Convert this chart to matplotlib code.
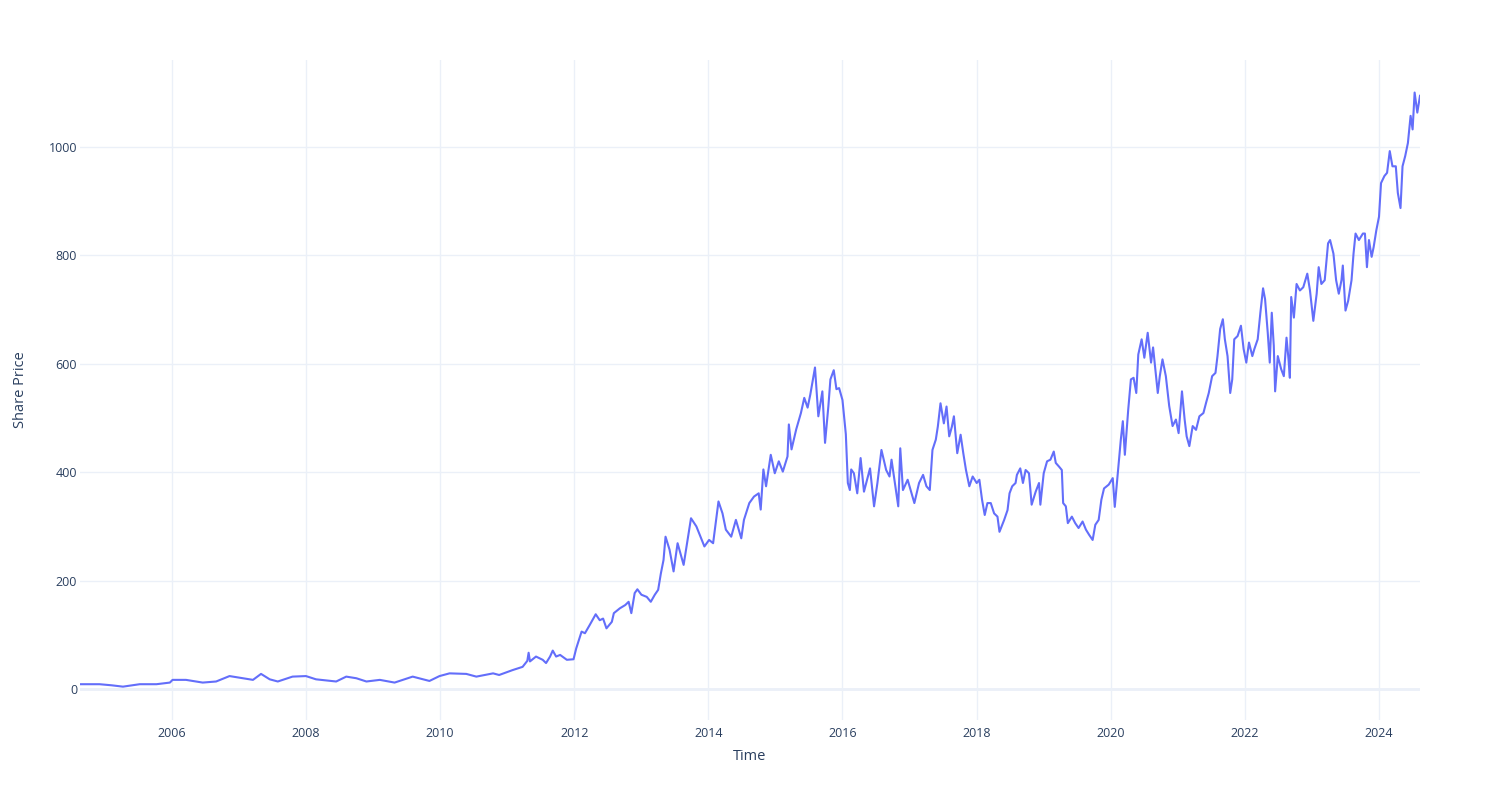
import matplotlib
matplotlib.use("Agg")
import matplotlib.pyplot as plt
import matplotlib.dates as mdates
import pandas as pd
import numpy as np

plt.rcParams['font.family'] = ['Open Sans', 'DejaVu Sans']

# Time in decimal years
years = [
    2004.63, 2004.92, 2005.10, 2005.27, 2005.52, 2005.77, 2005.97, 2006.01, 2006.21, 2006.46,
    2006.66, 2006.86, 2007.06, 2007.21, 2007.33, 2007.46, 2007.58, 2007.80, 2008.00, 2008.15,
    2008.45, 2008.60, 2008.75, 2008.90, 2009.10, 2009.32, 2009.59, 2009.84, 2009.99, 2010.14,
    2010.39, 2010.54, 2010.79, 2010.88, 2011.08, 2011.23, 2011.30, 2011.32, 2011.34, 2011.43,
    2011.53, 2011.58, 2011.64, 2011.68, 2011.73, 2011.79, 2011.89, 2011.99, 2012.03, 2012.11,
    2012.16, 2012.23, 2012.32, 2012.38, 2012.43, 2012.48, 2012.56, 2012.59, 2012.68, 2012.76,
    2012.81, 2012.85, 2012.90, 2012.94, 2013.00, 2013.08, 2013.14, 2013.20, 2013.25, 2013.29,
    2013.33, 2013.36, 2013.42, 2013.48, 2013.54, 2013.63, 2013.74, 2013.82, 2013.94, 2014.01,
    2014.07, 2014.15, 2014.21, 2014.26, 2014.34, 2014.41, 2014.49, 2014.53, 2014.61, 2014.68,
    2014.75, 2014.78, 2014.82, 2014.86, 2014.93, 2014.99, 2015.05, 2015.11, 2015.18, 2015.20,
    2015.24, 2015.31, 2015.38, 2015.43, 2015.48, 2015.52, 2015.59, 2015.64, 2015.70, 2015.74,
    2015.79, 2015.82, 2015.87, 2015.91, 2015.95, 2016.00, 2016.05, 2016.08, 2016.11, 2016.13,
    2016.17, 2016.22, 2016.27, 2016.32, 2016.41, 2016.47, 2016.52, 2016.58, 2016.65, 2016.70,
    2016.73, 2016.78, 2016.83, 2016.86, 2016.90, 2016.97, 2017.07, 2017.14, 2017.20, 2017.25,
    2017.30, 2017.34, 2017.39, 2017.42, 2017.46, 2017.51, 2017.55, 2017.59, 2017.63, 2017.66,
    2017.71, 2017.76, 2017.80, 2017.84, 2017.89, 2017.94, 2018.00, 2018.04, 2018.08, 2018.12,
    2018.16, 2018.21, 2018.26, 2018.31, 2018.34, 2018.41, 2018.46, 2018.49, 2018.53, 2018.58,
    2018.60, 2018.65, 2018.69, 2018.73, 2018.78, 2018.82, 2018.88, 2018.93, 2018.95, 2019.00,
    2019.05, 2019.10, 2019.15, 2019.18, 2019.23, 2019.27, 2019.29, 2019.33, 2019.36, 2019.42,
    2019.47, 2019.52, 2019.58, 2019.63, 2019.68, 2019.73, 2019.77, 2019.82, 2019.86, 2019.90,
    2019.97, 2020.03, 2020.06, 2020.11, 2020.15, 2020.18, 2020.21, 2020.26, 2020.30, 2020.34,
    2020.38, 2020.41, 2020.46, 2020.50, 2020.55, 2020.60, 2020.63, 2020.67, 2020.70, 2020.73,
    2020.77, 2020.82, 2020.87, 2020.92, 2020.97, 2021.01, 2021.06, 2021.10, 2021.13, 2021.17,
    2021.22, 2021.27, 2021.32, 2021.38, 2021.42, 2021.46, 2021.51, 2021.56, 2021.59, 2021.63,
    2021.67, 2021.70, 2021.74, 2021.78, 2021.81, 2021.84, 2021.89, 2021.94, 2021.98, 2022.02,
    2022.06, 2022.11, 2022.14, 2022.19, 2022.23, 2022.27, 2022.30, 2022.34, 2022.37, 2022.40,
    2022.43, 2022.45, 2022.49, 2022.54, 2022.58, 2022.62, 2022.65, 2022.67, 2022.69, 2022.73,
    2022.77, 2022.82, 2022.87, 2022.93, 2022.97, 2023.02, 2023.07, 2023.10, 2023.14, 2023.19,
    2023.24, 2023.27, 2023.32, 2023.36, 2023.40, 2023.44, 2023.46, 2023.50, 2023.54, 2023.59,
    2023.62, 2023.65, 2023.70, 2023.76, 2023.79, 2023.82, 2023.85, 2023.89, 2023.92, 2023.96,
    2024.00, 2024.03, 2024.08, 2024.12, 2024.16, 2024.20, 2024.25, 2024.28, 2024.32, 2024.35,
    2024.39, 2024.43, 2024.47, 2024.50, 2024.53, 2024.57, 2024.61,
]

share_price = [
    9, 9, 7, 4.5, 9, 9, 12, 17, 17, 12,
    14, 24, 20, 17, 28, 18, 14, 23, 24, 18,
    14, 23, 20, 14, 17, 12, 23, 15, 24, 29,
    28, 23, 29, 26, 35, 41, 52, 67, 51, 60,
    54, 48, 60, 71, 60, 63, 54, 55, 75, 106,
    103, 118, 138, 127, 130, 112, 124, 140, 149, 155,
    161, 140, 177, 184, 174, 170, 161, 174, 183, 213,
    238, 281, 257, 217, 269, 229, 315, 300, 263, 275,
    269, 346, 324, 294, 281, 312, 278, 312, 343, 355,
    361, 331, 405, 374, 432, 398, 420, 401, 429, 488,
    442, 479, 509, 537, 519, 543, 593, 503, 549, 454,
    522, 571, 588, 553, 555, 533, 470, 380, 367, 405,
    398, 361, 426, 364, 407, 337, 380, 441, 404, 392,
    423, 380, 337, 444, 367, 386, 343, 380, 395, 374,
    367, 441, 460, 484, 527, 490, 521, 466, 484, 503,
    435, 469, 435, 404, 374, 392, 380, 386, 349, 321,
    343, 343, 324, 318, 290, 312, 330, 361, 374, 380,
    395, 407, 380, 404, 398, 340, 364, 380, 340, 398,
    420, 423, 438, 417, 410, 404, 343, 337, 306, 318,
    306, 297, 309, 294, 284, 275, 303, 312, 349, 370,
    377, 389, 336, 404, 460, 494, 432, 515, 571, 574,
    546, 617, 645, 611, 657, 602, 630, 583, 546, 577,
    608, 577, 522, 485, 497, 472, 549, 497, 466, 448,
    485, 478, 503, 509, 528, 546, 577, 583, 614, 664,
    682, 645, 614, 546, 571, 645, 651, 670, 627, 602,
    639, 614, 627, 645, 694, 739, 719, 657, 602, 694,
    633, 549, 614, 590, 577, 648, 608, 574, 723, 685,
    747, 735, 741, 766, 735, 679, 729, 778, 747, 754,
    822, 828, 803, 754, 729, 754, 781, 698, 716, 754,
    803, 840, 828, 840, 840, 778, 828, 797, 815, 846,
    871, 933, 946, 952, 992, 964, 964, 915, 887, 964,
    983, 1007, 1057, 1032, 1100, 1063, 1094,
]

y_ticks = [0, 200, 400, 600, 800, 1000]
x_tick_years = list(range(2006, 2025, 2))


def decimal_year_to_datetime(y):
    yr = int(np.floor(y))
    start = pd.Timestamp(year=yr, month=1, day=1)
    end = pd.Timestamp(year=yr + 1, month=1, day=1)
    return start + (end - start) * (y - yr)


dates = [decimal_year_to_datetime(y) for y in years]

TEXT = '#2a3f5f'
GRID = '#EBF0F8'

fig = plt.figure(figsize=(15, 8), dpi=100)
ax = fig.add_axes([80 / 1500, 80 / 800, 1340 / 1500, 660 / 800])

ax.plot(dates, share_price, color='#636efa', linewidth=1.5, solid_joinstyle='round', zorder=3)

ax.set_xlim(dates[0], dates[-1])
ax.set_ylim(-57, 1160)

ax.set_yticks(y_ticks)
ax.set_xticks([pd.Timestamp(year=y, month=1, day=1) for y in x_tick_years])
ax.xaxis.set_major_formatter(mdates.DateFormatter('%Y'))

ax.grid(True, color=GRID, linewidth=1, zorder=0)
ax.axhline(0, color=GRID, linewidth=2, zorder=1)
for s in ax.spines.values():
    s.set_visible(False)

ax.tick_params(axis='both', length=0, labelsize=9, labelcolor=TEXT)
ax.tick_params(axis='x', pad=5)
ax.tick_params(axis='y', pad=2)

ax.set_xlabel('Time', fontsize=10.5, color=TEXT)
ax.set_ylabel('Share Price', fontsize=10.5, color=TEXT)
ax.xaxis.set_label_coords(0.5, (720 - 749) / 660)
ax.yaxis.set_label_coords((28 - 80) / 1340, 0.5)

fig.savefig('out.png', dpi=100, facecolor='white')
